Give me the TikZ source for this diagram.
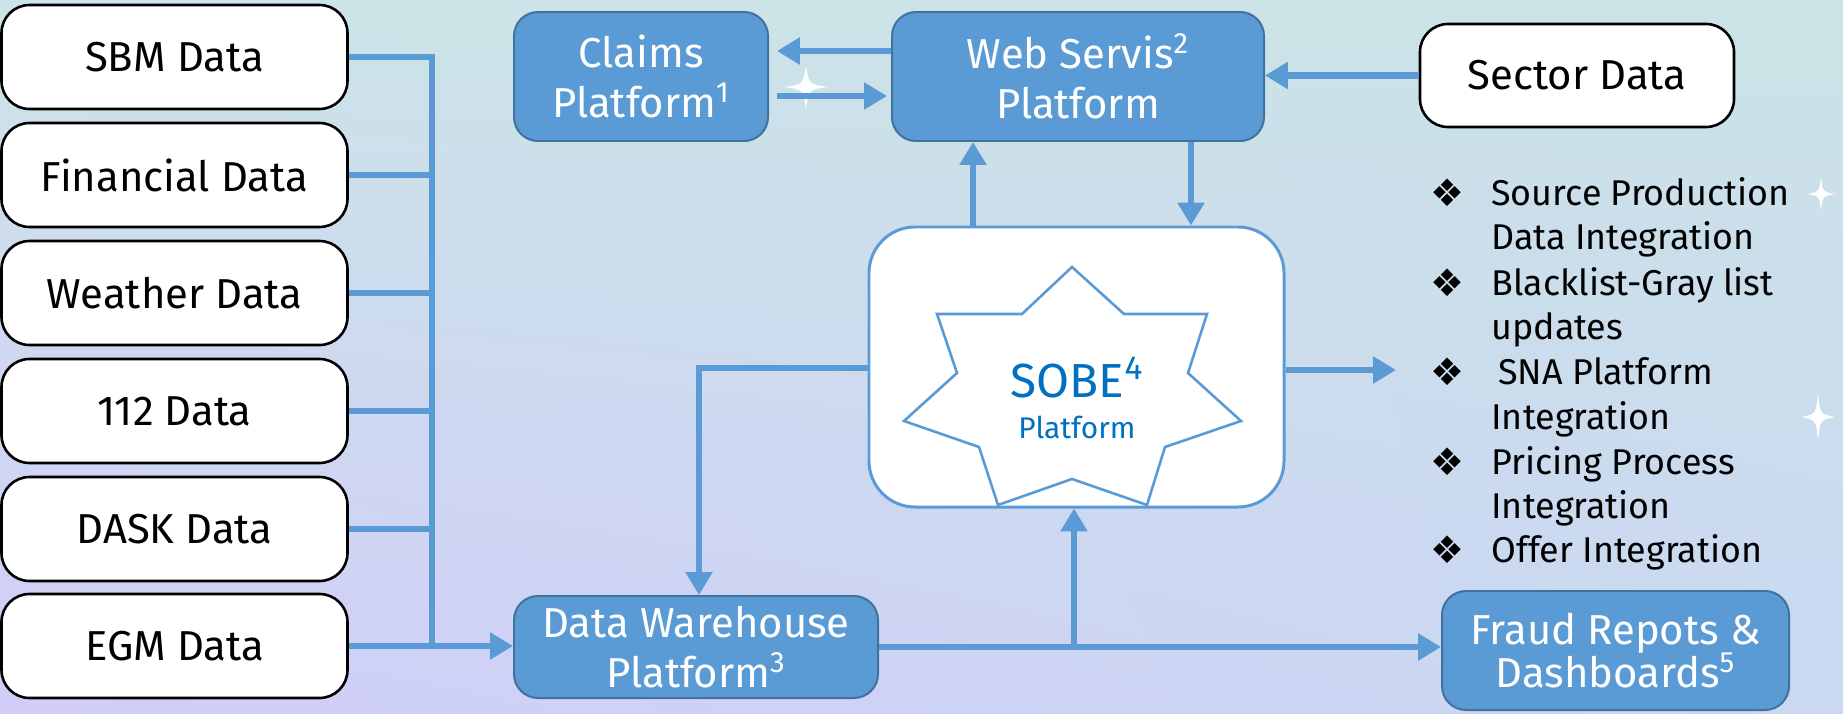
\documentclass[tikz,border=0pt]{standalone}
\usepackage{fontspec}
\setmainfont{Fira Sans}
\newfontfamily\symfont{DejaVu Sans}
\usetikzlibrary{arrows.meta,calc,shadings}
\definecolor{bgTL}{HTML}{CCE4E8}
\definecolor{bgTR}{HTML}{CBE3E6}
\definecolor{bgBL}{HTML}{D1CDF8}
\definecolor{bgBR}{HTML}{CAD8F2}
\definecolor{boxblue}{HTML}{5B9BD5}
\definecolor{boxedge}{HTML}{41719C}
\definecolor{lineblue}{HTML}{5B9BD5}
\definecolor{sobeblue}{HTML}{0070C0}
\tikzset{
  databox/.style={draw=black, line width=1.3pt, fill=white, rounded corners=14bp,
    minimum width=173bp, minimum height=52bp, inner sep=0pt,
    font=\fontsize{21}{25}\selectfont},
  bluebox/.style={draw=boxedge, line width=1pt, fill=boxblue, rounded corners=12bp,
    text=white, align=center, inner sep=0pt, font=\fontsize{21}{25}\selectfont},
  sobebox/.style={draw=lineblue, line width=1.5pt, fill=white, rounded corners=23bp,
    minimum width=207.5bp, minimum height=140bp, inner sep=0pt},
  conn/.style={draw=lineblue, line width=3.5pt},
  arr/.style={conn, -{Triangle[length=11.5pt,width=13pt]}},
  bul/.style={anchor=base, inner sep=0pt, font=\symfont\fontsize{19}{22}\selectfont},
  btext/.style={anchor=base west, font=\fontsize{18}{22}\selectfont, inner sep=0pt},
  sparkle/.pic={\fill[white] (0,-1) .. controls (0.12,-0.12) .. (1,0)
     .. controls (0.12,0.12) .. (0,1) .. controls (-0.12,0.12) .. (-1,0)
     .. controls (-0.12,-0.12) .. (0,-1) -- cycle;}
}
\begin{document}
\begin{tikzpicture}[x=0.5bp,y=-0.5bp]
\useasboundingbox (0,0) rectangle (1843,714);
\shade[upper left=bgTL, upper right=bgTR, lower left=bgBL, lower right=bgBR]
  (0,0) rectangle (1843,714);

% left data boxes
\node[databox] (sbm)  at (174.5,57)  {SBM Data};
\node[databox] (fin)  at (174.5,175) {Financial Data};
\node[databox] (wea)  at (174.5,293) {Weather Data};
\node[databox] (d112) at (174.5,411) {112 Data};
\node[databox] (dask) at (174.5,529) {DASK Data};
\node[databox] (egm)  at (174.5,646) {EGM Data};

% platforms
\node[bluebox, minimum width=127bp, minimum height=64.5bp] (claims) at (641,76.5)
  {Claims\\Platform\textsuperscript{1}};
\node[bluebox, minimum width=186bp, minimum height=64.5bp] (web) at (1078,76.5)
  {Web Servis\textsuperscript{2}\\Platform};
\node[databox, minimum width=157bp, minimum height=51.5bp] (sector) at (1577,75.5)
  {Sector Data};
\node[sobebox] (sobe) at (1076.5,367) {};
\node[bluebox, minimum width=182bp, minimum height=51bp] (dw) at (696,647)
  {Data Warehouse\\Platform\textsuperscript{3}};
\node[bluebox, minimum width=173.5bp, minimum height=59.5bp,
  font=\fontsize{21}{22}\selectfont] (fraud) at (1615.5,650.5)
  {Fraud Repots \&\\Dashboards\textsuperscript{5}};

% star inside SOBE
\draw[draw=lineblue, line width=1.3pt, fill=white, line join=miter]
  (1072,267) -- (1022,314) -- (937,314) -- (957,373) -- (904,421) -- (979,447)
  -- (998,505) -- (1072,479) -- (1147,505) -- (1165,447) -- (1241,421)
  -- (1188,373) -- (1207,314) -- (1124,314) -- cycle;
\node[text=sobeblue, font=\fontsize{24}{28}\selectfont, inner sep=0pt] (sobet) at (1077,377)
  {SOBE\textsuperscript{4}};
\node[text=sobeblue, font=\fontsize{15}{18}\selectfont, inner sep=0pt] (sobep) at (1077,427)
  {Platform};

% sparkles
\pic[xscale=22, yscale=22] at (806,87) {sparkle};
\pic[xscale=14, yscale=17] at (1821,194) {sparkle};
\pic[xscale=17, yscale=24] at (1818,417) {sparkle};

% bus from data sources
\coordinate (bus) at (432,58);
\coordinate (busend) at (432,646);
\draw[conn] (sbm.east) -- (sbm.east -| bus) -- (busend);
\foreach \n in {fin,wea,d112,dask} \draw[conn] (\n.east) -- (\n.east -| bus);
\draw[arr] (egm.east) -- (busend) -- (dw.west |- busend);

% top arrows
\coordinate (yA) at (0,51);
\coordinate (yB) at (0,96);
\draw[arr] (web.west |- yA) -- ([xshift=4pt]claims.east |- yA);
\draw[arr] ([xshift=4pt]claims.east |- yB) -- ([xshift=-2pt]web.west |- yB);
\draw[arr] (sector.west) -- (sector.west -| web.east);

% web <-> sobe
\coordinate (up1) at (973,0);
\coordinate (dn1) at (1191,0);
\draw[arr] (up1 |- sobe.north) -- (up1 |- web.south);
\draw[arr] (dn1 |- web.south) -- (dn1 |- sobe.north);

% sobe -> dw
\coordinate (lc) at (699,368);
\draw[arr] (sobe.west |- lc) -- (lc) -- (lc |- dw.north);

% dw -> fraud, branch up to sobe
\draw[arr] (dw.east) -- (dw.east -| fraud.west);
\coordinate (jn) at (1074,0);
\draw[arr] (jn |- dw.east) -- (jn |- sobe.south);

% sobe -> list
\coordinate (bl) at (1396,370);
\draw[arr] (sobe.east |- bl) -- (bl);

% bullet list
\node[bul] (b1) at (1447,206) {❖};
\node[bul] (b2) at (1447,296) {❖};
\node[bul] (b3) at (1447,385) {❖};
\node[bul] (b4) at (1447,475) {❖};
\node[bul] (b5) at (1447,563) {❖};
\node[btext] (t1) at (1491,205) {Source Production};
\node[btext] (t2) at (1491,249) {Data Integration};
\node[btext] (t3) at (1491,295) {Blacklist-Gray list};
\node[btext] (t4) at (1491,339) {updates};
\node[btext] (t5) at (1498,384) {SNA Platform};
\node[btext] (t6) at (1491,429) {Integration};
\node[btext] (t7) at (1491,474) {Pricing Process};
\node[btext] (t8) at (1491,518) {Integration};
\node[btext] (t9) at (1491,562) {Offer Integration};
\end{tikzpicture}
\end{document}
